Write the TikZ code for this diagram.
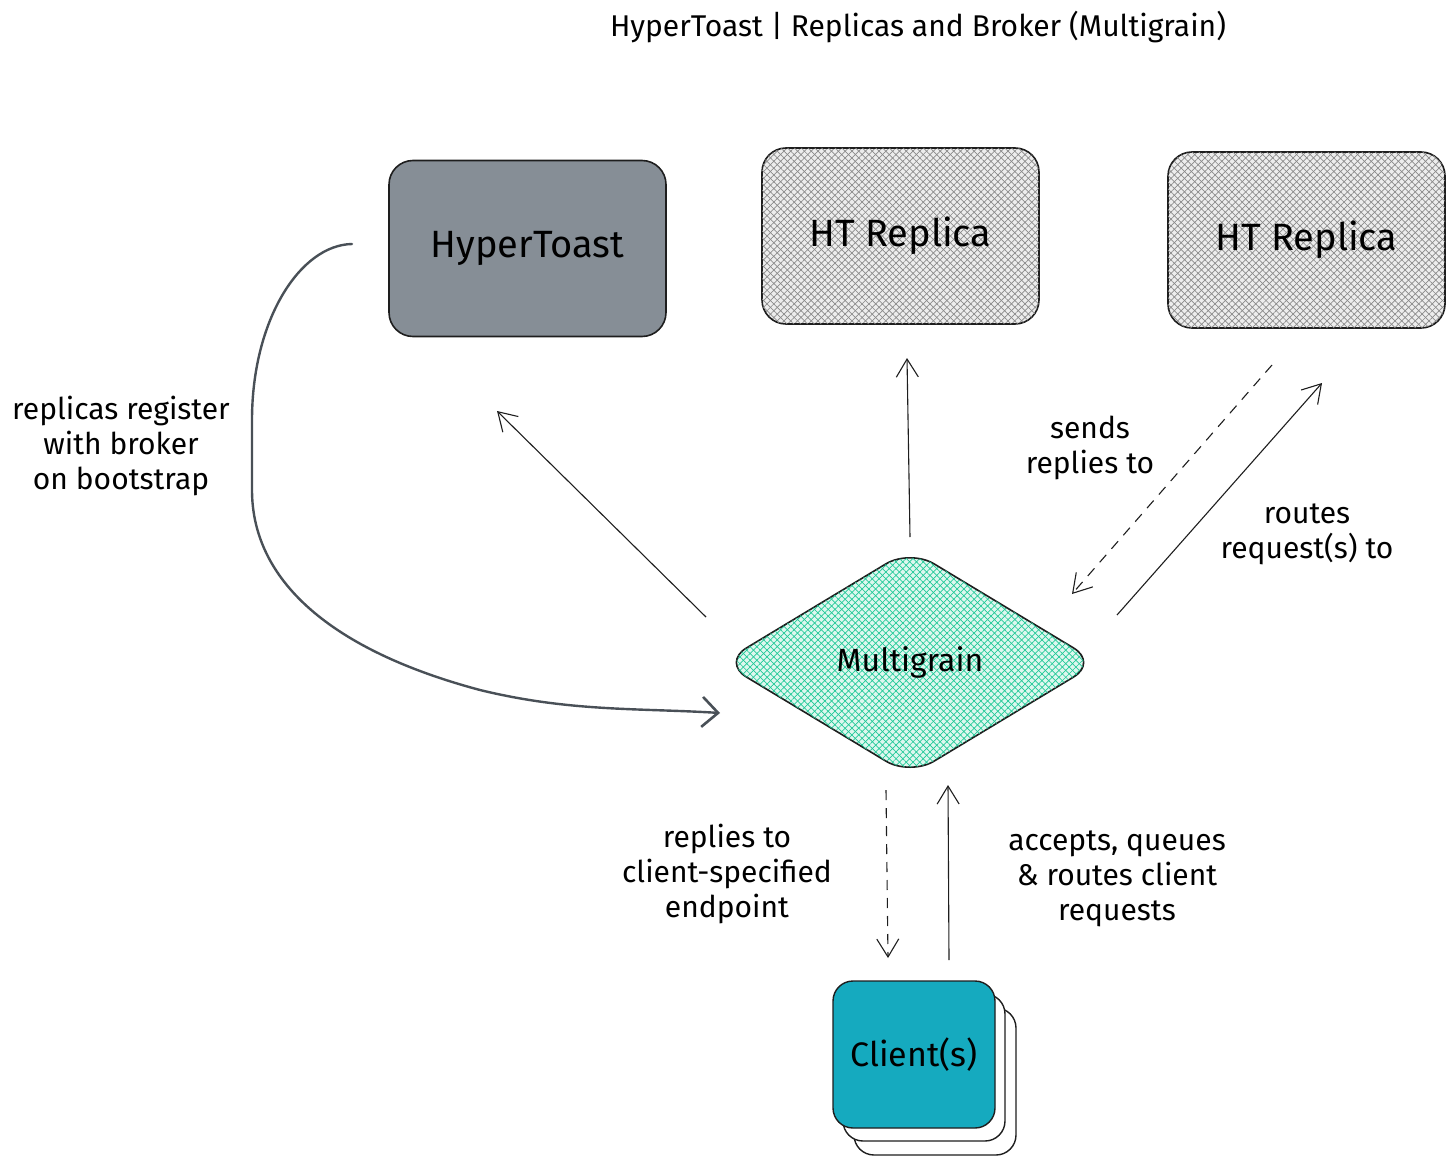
\documentclass[tikz,border=0pt]{standalone}
\usepackage{fontspec}
\setmainfont{Fira Sans}
\usetikzlibrary{shapes.geometric,arrows.meta,patterns.meta}
\definecolor{inkblack}{HTML}{1E1E1E}
\definecolor{toastgray}{HTML}{868E96}
\definecolor{curvegray}{HTML}{495057}
\definecolor{mintgreen}{HTML}{20C997}
\definecolor{clientcyan}{HTML}{15AABF}
\definecolor{hatchgray}{HTML}{8A8A8A}

\begin{document}
\begin{tikzpicture}[x=0.5pt, y=-0.5pt,
  box/.style={rectangle, draw=inkblack, line width=0.8pt, rounded corners=12pt, minimum width=138.5pt, minimum height=88pt, font=\fontsize{19}{22}\selectfont},
  hatch/.style={preaction={fill=#1!15}, pattern={Lines[angle=45,distance=2.4pt,line width=0.35pt]}, pattern color=#1, postaction={pattern={Lines[angle=-45,distance=2.4pt,line width=0.35pt]}, pattern color=#1}},
  clientbox/.style={rectangle, draw=inkblack, line width=0.7pt, rounded corners=10pt, minimum width=81pt, minimum height=73.5pt, font=\fontsize{17}{20}\selectfont},
  note/.style={align=center, font=\fontsize{15}{17.5}\selectfont},
  flow/.style={draw=inkblack, line width=0.55pt, -{Straight Barb[length=9pt,width=11pt,line width=0.55pt]}},
]
\useasboundingbox (0,0) rectangle (1455,1166);

% Title
\node[font=\fontsize{15}{18}\selectfont] (title) at (918,27) {HyperToast | Replicas and Broker (Multigrain)};

% Boxes
\node[box, fill=toastgray] (ht) at (527.5,248.5) {HyperToast};
\node[box, hatch=hatchgray] (rep1) at (900.5,236) {HT Replica};
\node[box, hatch=hatchgray] (rep2) at (1306.5,240) {HT Replica};

% Broker
\node[diamond, draw=inkblack, line width=0.8pt, rounded corners=14pt, minimum width=188pt, minimum height=113.5pt, hatch=mintgreen, font=\fontsize{16}{19}\selectfont] (mg) at (910,662.5) {Multigrain};

% Clients (stacked)
\node[clientbox, fill=white] (cl3) at (935,1081.5) {};
\node[clientbox, fill=white] (cl2) at (924,1067.5) {};
\node[clientbox, fill=clientcyan] (cl) at (914,1054.5) {Client(s)};

% Arrow end points
\coordinate (mgnw) at (706,617);
\coordinate (htse) at (497,411);
\coordinate (mgn) at (910,537);
\coordinate (rep1s) at (907,358);
\coordinate (rep2sw) at (1272,365);
\coordinate (mgne) at (1072,594);
\coordinate (mgne2) at (1117,615);
\coordinate (rep2s) at (1322,383);
\coordinate (htw) at (352,244);
\coordinate (mgw) at (720,713);
\coordinate (mgs) at (886,790);
\coordinate (clN) at (888,958);
\coordinate (clN2) at (949,960);
\coordinate (mgs2) at (948,785);

% Arrows
\draw[flow] (mgnw) -- (htse);
\draw[flow] (mgn) -- (rep1s);
\draw[flow, dashed, dash pattern=on 5pt off 4pt] (rep2sw) -- (mgne);
\draw[flow] (mgne2) -- (rep2s);
\draw[flow, dashed, dash pattern=on 5pt off 4pt] (mgs) -- (clN);
\draw[flow] (clN2) -- (mgs2);
\draw[curvegray, line width=1.2pt, line cap=round, -{Straight Barb[length=8pt,width=15pt,line width=1.3pt]}]
  (htw) .. controls (300,245) and (252,320) .. (252,420) -- (252,490)
  .. controls (252,580) and (330,650) .. (480,690) .. controls (570,712) and (640,708) .. (mgw);

% Labels
\node[note] (lreg) at (121,446) {replicas register\\with broker\\on bootstrap};
\node[note] (lsend) at (1090,448) {sends\\replies to};
\node[note] (lroute) at (1307,534) {routes\\request(s) to};
\node[note] (lreply) at (727,874) {replies to\\client-specified\\endpoint};
\node[note] (laccept) at (1117,879) {accepts, queues\\\& routes client\\requests};
\end{tikzpicture}
\end{document}
